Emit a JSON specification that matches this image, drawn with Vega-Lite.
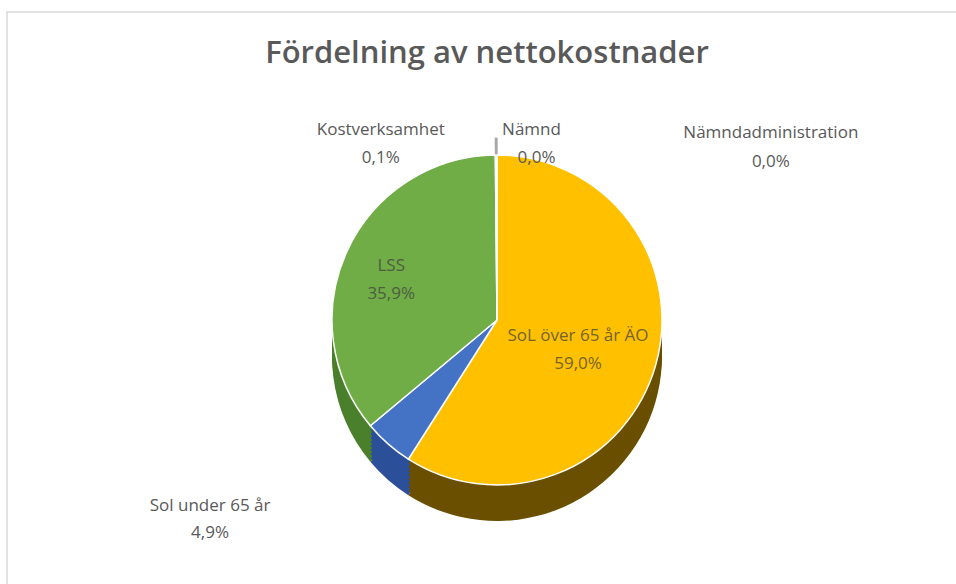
{
  "$schema": "https://vega.github.io/schema/vega-lite/v6.json",
  "autosize": "none",
  "width": 960,
  "height": 580,
  "padding": {"left": 7, "top": 12, "right": 0, "bottom": 0},
  "background": "white",
  "config": {"view": {"stroke": "#d9d9d9", "strokeWidth": 1.5}, "text": {"font": "Open Sans"}},
  "title": {"text": "Fördelning av nettokostnader", "font": "Open Sans", "fontSize": 31, "fontWeight": 600, "color": "#595959", "anchor": "middle", "offset": -58},
  "data": {"values": [
    {"i": 1, "name": "SoL över 65 år ÄO", "value": 59.0, "pct": "59,0%"},
    {"i": 2, "name": "Sol under 65 år", "value": 4.9, "pct": "4,9%"},
    {"i": 3, "name": "LSS", "value": 35.9, "pct": "35,9%"},
    {"i": 4, "name": "Kostverksamhet", "value": 0.1, "pct": "0,1%"},
    {"i": 5, "name": "Nämnd", "value": 0.03, "pct": "0,0%"},
    {"i": 6, "name": "Nämndadministration", "value": 0.03, "pct": "0,0%"}
  ]},
  "encoding": {
    "theta": {"field": "value", "type": "quantitative", "stack": true},
    "order": {"field": "i", "type": "quantitative"},
    "x": {"value": 490}
  },
  "layer": [
    {"mark": {"type": "arc", "radius": 165}, "encoding": {"y": {"value": 344}, "fill": {"field": "name", "type": "nominal", "legend": null, "scale": {"domain": ["SoL över 65 år ÄO", "Sol under 65 år", "LSS", "Kostverksamhet", "Nämnd", "Nämndadministration"], "range": ["#6a4f00", "#2c4f9a", "#4a7f2c", "#7f7f7f", "#7f7f7f", "#7f7f7f"]}}}},
    {"mark": {"type": "arc", "radius": 165}, "encoding": {"y": {"value": 340}, "fill": {"field": "name", "type": "nominal", "legend": null}}},
    {"mark": {"type": "arc", "radius": 165}, "encoding": {"y": {"value": 336}, "fill": {"field": "name", "type": "nominal", "legend": null}}},
    {"mark": {"type": "arc", "radius": 165}, "encoding": {"y": {"value": 332}, "fill": {"field": "name", "type": "nominal", "legend": null}}},
    {"mark": {"type": "arc", "radius": 165}, "encoding": {"y": {"value": 328}, "fill": {"field": "name", "type": "nominal", "legend": null}}},
    {"mark": {"type": "arc", "radius": 165}, "encoding": {"y": {"value": 324}, "fill": {"field": "name", "type": "nominal", "legend": null}}},
    {"mark": {"type": "arc", "radius": 165}, "encoding": {"y": {"value": 320}, "fill": {"field": "name", "type": "nominal", "legend": null}}},
    {"mark": {"type": "arc", "radius": 165}, "encoding": {"y": {"value": 316}, "fill": {"field": "name", "type": "nominal", "legend": null}}},
    {"mark": {"type": "arc", "radius": 165}, "encoding": {"y": {"value": 312}, "fill": {"field": "name", "type": "nominal", "legend": null}}},
    {"mark": {"type": "arc", "radius": 165, "stroke": "white", "strokeWidth": 1.5}, "encoding": {"y": {"value": 308}, "color": {"field": "name", "type": "nominal", "legend": null, "scale": {"domain": ["SoL över 65 år ÄO", "Sol under 65 år", "LSS", "Kostverksamhet", "Nämnd", "Nämndadministration"], "range": ["#ffc000", "#4472c4", "#70ad47", "#a5a5a5", "#a5a5a5", "#a5a5a5"]}}}},
    {"mark": {"type": "arc", "radius": 182, "radius2": 166, "fill": "#a6a6a6", "stroke": "#a6a6a6", "strokeWidth": 1}, "encoding": {"y": {"value": 308}, "opacity": {"condition": {"test": "datum.i >= 4", "value": 1}, "value": 0}}},
    {"mark": {"type": "text", "radius": 100, "dx": -15, "dy": -12, "fontSize": 17, "color": "#404040", "opacity": 0.72}, "encoding": {"y": {"value": 308}, "text": {"condition": {"test": "datum.i == 1 || datum.i == 3", "field": "name"}, "value": ""}}},
    {"mark": {"type": "text", "radius": 100, "dx": -15, "dy": 16, "fontSize": 17, "color": "#404040", "opacity": 0.72}, "encoding": {"y": {"value": 308}, "text": {"condition": {"test": "datum.i == 1 || datum.i == 3", "field": "pct"}, "value": ""}}},
    {"mark": {"type": "text", "radius": 215, "dx": -145, "dy": 24, "fontSize": 17, "color": "#595959"}, "encoding": {"y": {"value": 308}, "text": {"condition": {"test": "datum.i == 2", "field": "name"}, "value": ""}}},
    {"mark": {"type": "text", "radius": 215, "dx": -145, "dy": 51, "fontSize": 17, "color": "#595959"}, "encoding": {"y": {"value": 308}, "text": {"condition": {"test": "datum.i == 2", "field": "pct"}, "value": ""}}},
    {"mark": {"type": "text", "radius": 178, "dx": -115, "dy": -12, "fontSize": 17, "color": "#595959"}, "encoding": {"y": {"value": 308}, "text": {"condition": {"test": "datum.i == 4", "field": "name"}, "value": ""}}},
    {"mark": {"type": "text", "radius": 178, "dx": -115, "dy": 16, "fontSize": 17, "color": "#595959"}, "encoding": {"y": {"value": 308}, "text": {"condition": {"test": "datum.i == 4", "field": "pct"}, "value": ""}}},
    {"mark": {"type": "text", "radius": 178, "dx": 35, "dy": -12, "fontSize": 17, "color": "#595959"}, "encoding": {"y": {"value": 308}, "text": {"condition": {"test": "datum.i == 5", "field": "name"}, "value": ""}}},
    {"mark": {"type": "text", "radius": 178, "dx": 40, "dy": 16, "fontSize": 17, "color": "#595959"}, "encoding": {"y": {"value": 308}, "text": {"condition": {"test": "datum.i == 5", "field": "pct"}, "value": ""}}},
    {"mark": {"type": "text", "radius": 178, "dx": 274, "dy": -9, "fontSize": 17, "color": "#595959"}, "encoding": {"y": {"value": 308}, "text": {"condition": {"test": "datum.i == 6", "field": "name"}, "value": ""}}},
    {"mark": {"type": "text", "radius": 178, "dx": 274, "dy": 20, "fontSize": 17, "color": "#595959"}, "encoding": {"y": {"value": 308}, "text": {"condition": {"test": "datum.i == 6", "field": "pct"}, "value": ""}}}
  ]
}
